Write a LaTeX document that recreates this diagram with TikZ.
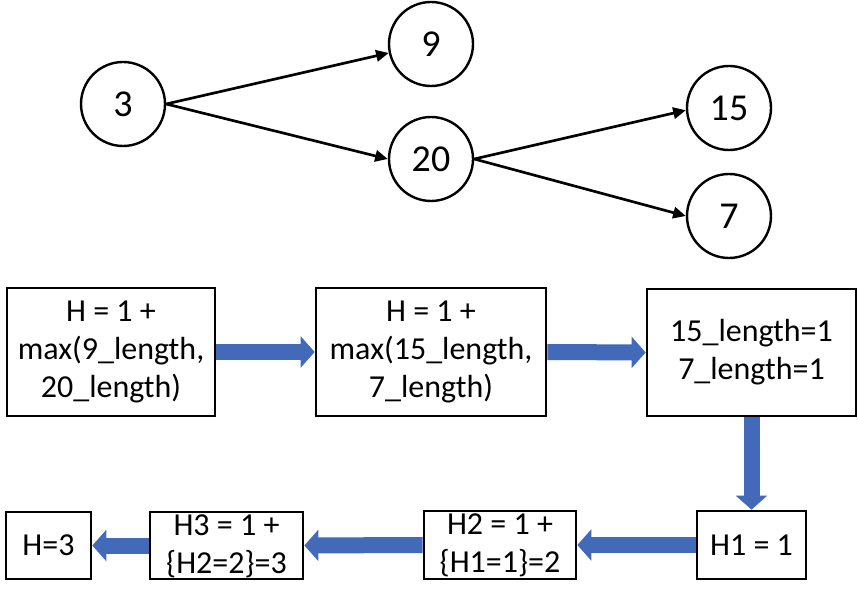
\documentclass[tikz,border=0pt]{standalone}
\usepackage{fontspec}
\setmainfont{Carlito}
\usetikzlibrary{arrows.meta}
\definecolor{arrowblue}{RGB}{66,106,184}
\begin{document}
\begin{tikzpicture}[x=0.75pt,y=-0.75pt,
  circ/.style={circle,draw,line width=1.8pt,minimum size=63pt,inner sep=0pt,font=\fontsize{28.5}{34}\selectfont},
  box/.style={rectangle,draw,line width=2pt,inner sep=0pt,align=center,font=\fontsize{24}{28.5}\selectfont},
  edge/.style={line width=2pt,-{Triangle[length=9.5pt,width=8.5pt]}},
  block/.style={draw=arrowblue,color=arrowblue,line width=12pt,-{Triangle[length=10.5pt,width=23pt]}}
]
\useasboundingbox (0,0) rectangle (858,599);

\node[circ] (n3) at (123,104) {3};
\node[circ] (n9) at (431,44) {9};
\node[circ] (n20) at (431,159) {20};
\node[circ] (n15) at (729,108) {15};
\node[circ] (n7) at (729,216) {7};

\draw[edge] (n3.east) -- (n9.192);
\draw[edge] (n3.east) -- (n20.west);
\draw[edge] (n20.east) -- (n15.183);
\draw[edge] (n20.east) -- (n7.west);

\node[box,minimum width=156pt,minimum height=96pt] (b1) at (111,352) {H = 1 +\\max(9\_length,\\20\_length)};
\node[box,minimum width=172.5pt,minimum height=96pt] (b2) at (431,352) {H = 1 +\\max(15\_length,\\7\_length)};
\node[box,minimum width=156.75pt,minimum height=95.25pt] (b3) at (751.5,352.5) {15\_length=1\\7\_length=1};
\node[box,minimum width=81.75pt,minimum height=51pt] (h1) at (751.5,545) {H1 = 1};
\node[box,minimum width=114pt,minimum height=51pt] (h2) at (500,545) {\smash{\raisebox{-7pt}{\begin{tabular}{@{}c@{}}H2 = 1 +\\\{H1=1\}=2\end{tabular}}}};
\node[box,minimum width=114.75pt,minimum height=50.25pt] (h3) at (226.5,545.5) {\smash{\raisebox{-7pt}{\begin{tabular}{@{}c@{}}H3 = 1 +\\\{H2=2\}=3\end{tabular}}}};
\node[box,minimum width=63.75pt,minimum height=50.25pt] (hf) at (48.5,545.5) {H=3};

\draw[block] (b1.east) -- (b2.west);
\draw[block] (b2.east) -- (b3.west);
\draw[block] (b3.south) -- (h1.north);
\draw[block] (h1.west) -- (h2.east);
\draw[block] (h2.west) -- (h3.east);
\draw[block] (h3.west) -- (hf.east);
\end{tikzpicture}
\end{document}
